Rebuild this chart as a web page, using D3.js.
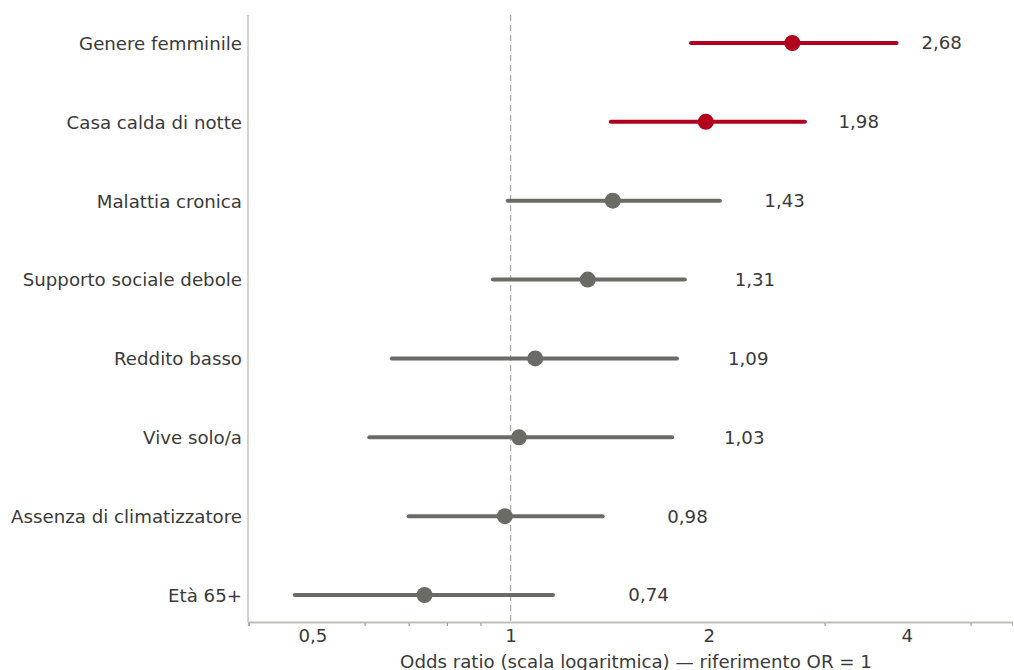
<!DOCTYPE html>
<html><head><meta charset="utf-8">
<script src="https://cdn.jsdelivr.net/npm/d3@7"></script>
<style>body{margin:0;background:#fff;} text{font-family:"DejaVu Sans",sans-serif;}</style>
</head><body>
<svg id="chart" width="1014" height="670"></svg>
<script>
const categories = ["Genere femminile","Casa calda di notte","Malattia cronica","Supporto sociale debole","Reddito basso","Vive solo/a","Assenza di climatizzatore","Età 65+"];
const oddsRatio = [2.68,1.98,1.43,1.31,1.09,1.03,0.98,0.74];
const ciLow = [1.88,1.42,0.99,0.94,0.66,0.61,0.70,0.47];
const ciHigh = [3.86,2.80,2.08,1.84,1.79,1.76,1.38,1.16];
const significant = [true,true,false,false,false,false,false,false];
const majorTicks = [0.5,1,2,4];
const minorTicks = [0.4,0.6,0.7,0.8,0.9,3,5];
const xTitle = "Odds ratio (scala logaritmica) — riferimento OR = 1";

const fmt = v => d3.format(".2f")(v).replace(".", ",");
const fmtTick = v => String(v).replace(".", ",");

const svg = d3.select("#chart");
const mLeft = 248, mRight = 1012, mTop = 15, mBottom = 622;
const x = d3.scaleLog().domain([0.399, 5.78]).range([mLeft, mRight]);
const y = d3.scalePoint().domain(categories).range([43, 595]);
const red = "#b0001e", gray = "#6b6b66", txt = "#3a3a3a", axisCol = "#bbbbb5";
const fs = 18.2;

// reference line
svg.append("line").attr("x1", x(1)).attr("x2", x(1)).attr("y1", mTop).attr("y2", mBottom)
  .attr("stroke", "#aaaaaa").attr("stroke-width", 1.3).attr("stroke-dasharray", "6,4");

// left spine
svg.append("line").attr("x1", mLeft).attr("x2", mLeft).attr("y1", mTop).attr("y2", mBottom)
  .attr("stroke", axisCol).attr("stroke-width", 1.3);

// bottom axis
const gMinor = svg.append("g").attr("transform", `translate(0,${mBottom})`)
  .call(d3.axisBottom(x).tickValues(minorTicks).tickSize(4).tickFormat(""));
const gMajor = svg.append("g").attr("transform", `translate(0,${mBottom})`)
  .call(d3.axisBottom(x).tickValues(majorTicks).tickSize(0).tickPadding(7).tickFormat(fmtTick));
[gMinor, gMajor].forEach(g => {
  g.select(".domain").attr("stroke", axisCol).attr("stroke-width", 1.3);
  g.selectAll(".tick line").attr("stroke", "#888").attr("stroke-width", 1);
});
gMajor.selectAll(".tick text").attr("fill", txt).attr("font-size", fs);

svg.append("text").attr("x", (mLeft + mRight) / 2 + 6).attr("y", 668).attr("text-anchor", "middle")
  .attr("fill", txt).attr("font-size", fs).text(xTitle);

// category labels
svg.append("g").selectAll("text").data(categories).join("text")
  .attr("x", 242).attr("y", d => y(d)).attr("dy", "0.38em").attr("text-anchor", "end")
  .attr("fill", txt).attr("font-size", fs).text(d => d);

const rows = categories.map((c, i) => ({c, or: oddsRatio[i], lo: ciLow[i], hi: ciHigh[i], sig: significant[i]}));

svg.append("g").selectAll("line").data(rows).join("line")
  .attr("x1", d => x(d.lo)).attr("x2", d => x(d.hi)).attr("y1", d => y(d.c)).attr("y2", d => y(d.c))
  .attr("stroke", d => d.sig ? red : gray).attr("stroke-width", 4).attr("stroke-linecap", "round");

svg.append("g").selectAll("circle").data(rows).join("circle")
  .attr("cx", d => x(d.or)).attr("cy", d => y(d.c)).attr("r", 8)
  .attr("fill", d => d.sig ? red : gray);

svg.append("g").selectAll("text").data(rows).join("text")
  .attr("x", d => x(d.hi + 0.35)).attr("y", d => y(d.c)).attr("dy", "0.35em")
  .attr("fill", txt).attr("font-size", fs).text(d => fmt(d.or));
</script>
</body></html>
